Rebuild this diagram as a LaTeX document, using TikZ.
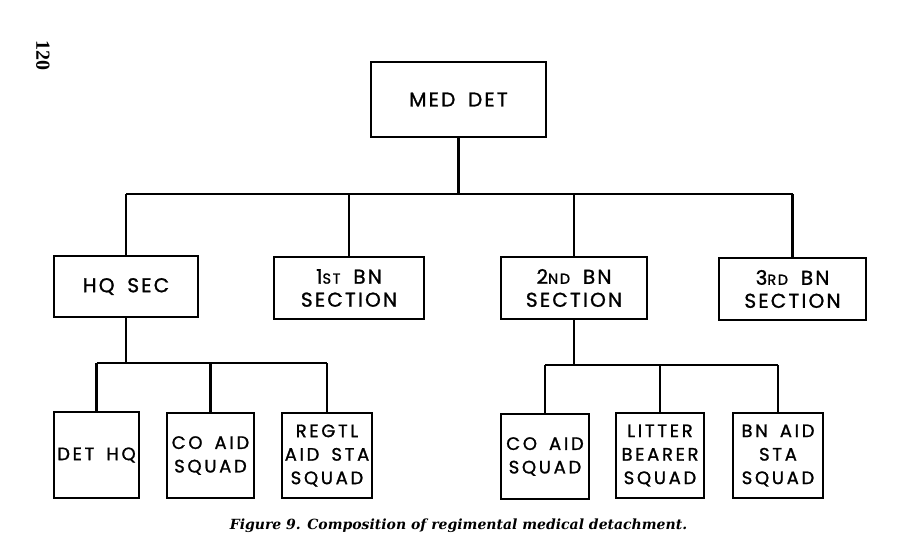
\documentclass[tikz,border=0pt]{standalone}
\usepackage{fontspec}
\setmainfont{Liberation Serif}
\newfontfamily\boxfont[LetterSpace=11,WordSpace=1.7,FakeBold=1.2]{Poppins}
\newfontfamily\smallboxfont[LetterSpace=15,WordSpace=1.6,FakeBold=1.2]{Poppins}
\newfontfamily\capfont{DejaVu Serif}
\newcommand\lowcap[1]{{\fontsize{14.5}{14.5}\selectfont #1}}
\begin{document}
\begin{tikzpicture}[x=1pt,y=-1pt,
  box/.style={draw, line width=2.2pt, inner sep=0pt, align=center,
    font=\boxfont\fontsize{20}{23}\selectfont},
  smallbox/.style={box, font=\smallboxfont\fontsize{18}{23.5}\selectfont},
  link/.style={line width=2.2pt}]
\useasboundingbox (0,0) rectangle (912,554);
\fill[white] (0,0) rectangle (912,554);

\node[box, minimum width=175, minimum height=75] (meddet) at (458.5,99.5) {MED DET};

\node[box, minimum width=144, minimum height=61] (hq) at (126,286.5) {HQ SEC};
\node[box, minimum width=150, minimum height=62] (bn1) at (349,288) {1\lowcap{ST} BN\\SECTION};
\node[box, minimum width=146, minimum height=62] (bn2) at (574,288) {2\lowcap{ND} BN\\SECTION};
\node[box, minimum width=147, minimum height=62] (bn3) at (792.5,289) {3\lowcap{RD} BN\\SECTION};

\node[smallbox, minimum width=85, minimum height=86] (dethq) at (96.5,455) {DET HQ};
\node[smallbox, minimum width=87, minimum height=85] (coaidl) at (210.5,455.5) {CO AID\\SQUAD};
\node[smallbox, minimum width=90, minimum height=85] (regtl) at (327,455.5) {REGTL\\AID STA\\SQUAD};

\node[smallbox, minimum width=88, minimum height=85] (coaidr) at (545,456.5) {CO AID\\SQUAD};
\node[smallbox, minimum width=88, minimum height=85] (litter) at (660,455.5) {LITTER\\BEARER\\SQUAD};
\node[smallbox, minimum width=90, minimum height=85] (bnaid) at (778,455.5) {BN AID\\STA\\SQUAD};

\coordinate (bus) at (0,194);
\coordinate (busl) at (0,363);
\coordinate (busr) at (0,365);

\draw[link] (meddet.south) -- (meddet.south |- bus);
\draw[link] (hq.north |- bus) -- (bn3.north |- bus);
\foreach \n in {hq,bn1,bn2,bn3} \draw[link] (\n.north |- bus) -- (\n.north);

\draw[link] (hq.south) -- (hq.south |- busl);
\draw[link] (dethq.north |- busl) -- (regtl.north |- busl);
\foreach \n in {dethq,coaidl,regtl} \draw[link] (\n.north |- busl) -- (\n.north);

\draw[link] (bn2.south) -- (bn2.south |- busr);
\draw[link] (coaidr.north |- busr) -- (bnaid.north |- busr);
\foreach \n in {coaidr,litter,bnaid} \draw[link] (\n.north |- busr) -- (\n.north);

\node[font=\capfont\bfseries\itshape\fontsize{14}{14}\selectfont, anchor=base] (caption) at (458.5,529)
  {Figure 9. Composition of regimental medical detachment.};
\node[font=\bfseries\fontsize{20}{20}\selectfont, rotate=-90] (pagenum) at (43,55) {120};
\end{tikzpicture}
\end{document}
